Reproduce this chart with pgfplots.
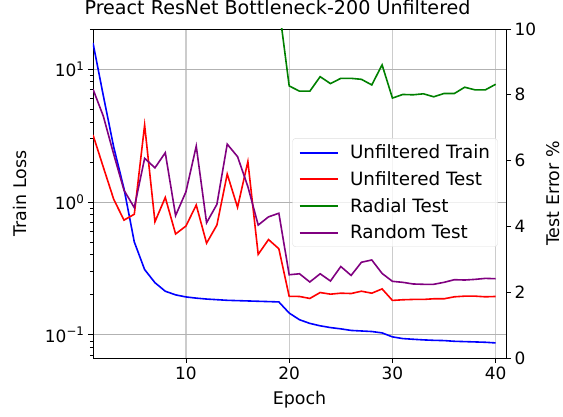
\documentclass[border=0pt]{standalone}
\usepackage{fontspec}
\setmainfont{DejaVu Sans}
\usepackage{pgfplots}
\pgfplotsset{compat=1.18}
\usepackage{pgfplotstable}

\definecolor{mplgreen}{RGB}{0,128,0}
\definecolor{mplpurple}{RGB}{128,0,128}

\pgfplotstableread{
epoch train
1 15.7
2 6.3
3 2.6
4 1.26
5 0.50
6 0.31
7 0.247
8 0.213
9 0.200
10 0.193
11 0.189
12 0.186
13 0.184
14 0.182
15 0.181
16 0.180
17 0.179
18 0.178
19 0.177
20 0.146
21 0.130
22 0.122
23 0.117
24 0.1135
25 0.111
26 0.108
27 0.107
28 0.106
29 0.1035
30 0.0966
31 0.0938
32 0.0927
33 0.0917
34 0.091
35 0.0906
36 0.0895
37 0.089
38 0.0885
39 0.088
40 0.087
}\traintable

\pgfplotstableread{
epoch unf rnd
1 6.78 8.17
2 5.80 7.35
3 4.83 6.20
4 4.19 5.10
5 4.37 4.57
6 7.08 6.07
7 4.14 5.78
8 4.88 6.24
9 3.77 4.33
10 4.01 5.05
11 4.65 6.44
12 3.49 4.11
13 4.04 4.67
14 5.59 6.50
15 4.58 6.12
16 5.97 5.21
17 3.15 4.04
18 3.60 4.29
19 3.32 4.40
20 1.875 2.53
21 1.87 2.56
22 1.81 2.31
23 1.99 2.56
24 1.94 2.34
25 1.97 2.78
26 1.96 2.51
27 2.03 2.91
28 1.97 2.98
29 2.10 2.57
30 1.75 2.33
31 1.77 2.30
32 1.78 2.25
33 1.78 2.24
34 1.80 2.24
35 1.80 2.30
36 1.86 2.38
37 1.88 2.37
38 1.88 2.39
39 1.86 2.42
40 1.87 2.41
}\testtable

\pgfplotstableread{
epoch radial
19 10.7
20 8.27
21 8.11
22 8.11
23 8.55
24 8.34
25 8.50
26 8.50
27 8.47
28 8.30
29 8.91
30 7.90
31 8.01
32 8.00
33 8.03
34 7.94
35 8.04
36 8.04
37 8.23
38 8.15
39 8.15
40 8.32
}\radialtable

\pgfplotsset{
  common/.style={
    width=413bp, height=329bp, scale only axis,
    at={(0,0)}, anchor=south west,
    xmin=1, xmax=41,
    tick align=outside,
    major tick length=5bp, minor tick length=3bp,
    tick style={black, line width=0.8bp},
    axis line style={black, line width=0.8bp},
    tick label style={font=\fontsize{17}{20}\selectfont},
    /pgf/number format/assume math mode=true,
  }
}

\begin{document}
\begin{tikzpicture}
\path[use as bounding box] (-93bp,-59bp) rectangle (470bp,358bp);

\begin{axis}[
  common,
  ymode=log, ymin=0.067, ymax=20,
  xtick={10,20,30,40},
  xtick pos=left, ytick pos=left,
  ytick={0.1,1,10},
  yticklabels={10\textsuperscript{−1},10\textsuperscript{0},10\textsuperscript{1}},
  minor ytick={0.07,0.08,0.09,0.2,0.3,0.4,0.5,0.6,0.7,0.8,0.9,2,3,4,5,6,7,8,9,20},
  xmajorgrids, ymajorgrids,
  x grid style={gray!40, line width=1.2bp},
  y grid style={gray!60, line width=0.8bp},
  xlabel={Epoch},
  ylabel={Train Loss},
  every axis x label/.style={at={(axis description cs:0.5,-0.128)}, anchor=center, font=\fontsize{17.5}{21}\selectfont},
  every axis y label/.style={at={(axis description cs:-0.177,0.5)}, rotate=90, anchor=center, font=\fontsize{17.5}{21}\selectfont},
  title={Preact ResNet Bottleneck-200 Unfiltered},
  title style={at={(axis description cs:0.447,1)}, anchor=base, yshift=8.3bp, font=\fontsize{19.2}{23}\selectfont},
]
\addplot[blue, line width=1.6bp] table[x=epoch, y=train] {\traintable};
\end{axis}

\begin{axis}[
  common,
  ymin=0, ymax=10,
  axis y line*=right, axis x line=none,
  ytick={0,2,4,6,8,10},
  ylabel={Test Error \%},
  every axis y label/.style={at={(axis description cs:1.114,0.5)}, rotate=90, anchor=center, font=\fontsize{17.5}{21}\selectfont},
  legend cell align=left,
  legend style={at={(axis description cs:0.98,0.668)}, anchor=north east,
    draw=gray!25, rounded corners=3bp, fill=white, fill opacity=0.8, text opacity=1,
    font=\fontsize{18.4}{21}\selectfont, inner xsep=6bp, inner ysep=5bp,
    row sep=8.2bp, nodes={inner sep=1.5bp},
    /tikz/every odd column/.append style={column sep=10bp}},
  legend image code/.code={\draw[#1, line width=2bp] (0bp,0bp) -- (38bp,0bp);},
]
\addlegendimage{blue}
\addlegendentry{Unfiltered Train}
\addplot[red, line width=1.6bp] table[x=epoch, y=unf] {\testtable};
\addlegendentry{Unfiltered Test}
\addplot[mplgreen, line width=1.6bp] table[x=epoch, y=radial] {\radialtable};
\addlegendentry{Radial Test}
\addplot[mplpurple, line width=1.6bp] table[x=epoch, y=rnd] {\testtable};
\addlegendentry{Random Test}
\end{axis}
\end{tikzpicture}
\end{document}
